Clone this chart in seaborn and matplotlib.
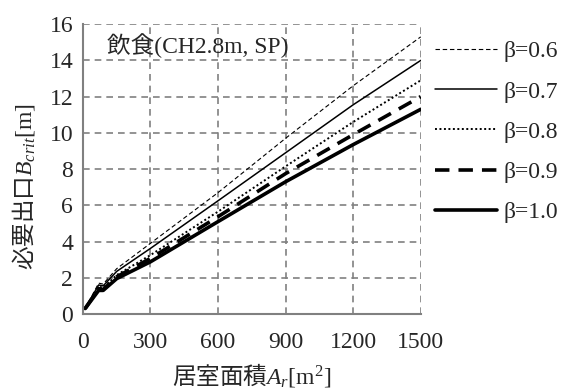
import matplotlib
matplotlib.use("Agg")
import matplotlib.pyplot as plt
import seaborn as sns
import pandas as pd
from matplotlib.ticker import MultipleLocator

# room area [m2]
area = [10, 70, 90, 150, 300, 600, 900, 1200, 1500]

# required exit width B_crit [m] per beta
b_06 = [0.3, 1.7, 1.65, 2.5, 3.9, 6.7, 9.7, 12.6, 15.3]
b_07 = [0.3, 1.6, 1.55, 2.35, 3.62, 6.25, 8.9, 11.55, 14.0]
b_08 = [0.3, 1.5, 1.45, 2.15, 3.25, 5.65, 8.15, 10.6, 12.9]
b_09 = [0.3, 1.4, 1.35, 2.05, 3.07, 5.37, 7.75, 9.9, 12.0]
b_10 = [0.3, 1.3, 1.3, 1.95, 2.88, 5.1, 7.3, 9.35, 11.3]

labels = ["β=0.6", "β=0.7", "β=0.8", "β=0.9", "β=1.0"]
series = [b_06, b_07, b_08, b_09, b_10]
styles = [
    dict(lw=0.8, ls=(0, (4, 2.5))),
    dict(lw=1.1, ls="-"),
    dict(lw=1.4, ls=(0, (1, 1.3))),
    dict(lw=2.6, ls=(0, (4, 2.5))),
    dict(lw=2.6, ls="-"),
]

FS = 17

sns.set_style("white")
plt.rcParams["font.family"] = ["Liberation Serif", "Noto Sans CJK JP"]
plt.rcParams["mathtext.fontset"] = "custom"
plt.rcParams["mathtext.rm"] = "Liberation Serif"
plt.rcParams["mathtext.it"] = "Liberation Serif:italic"

fig = plt.figure(figsize=(5.64, 3.90), dpi=100)
ax = fig.add_axes([0.147, 0.195, 0.599, 0.743])

for lab, vals, st in zip(labels, series, styles):
    df = pd.DataFrame({"area": area, "b": vals})
    sns.lineplot(data=df, x="area", y="b", ax=ax, color="black",
                 linewidth=st["lw"], linestyle=st["ls"], label=lab)

gray = "#808080"
ax.set_xlim(0, 1500)
ax.set_ylim(0, 16)
ax.xaxis.set_major_locator(MultipleLocator(300))
ax.xaxis.set_minor_locator(MultipleLocator(100))
ax.yaxis.set_major_locator(MultipleLocator(2))
ax.grid(True, which="major", color=gray, linestyle=(0, (4, 3)), linewidth=1.2)

for s in ["top", "right"]:
    ax.spines[s].set_visible(False)
for s in ["left", "bottom"]:
    ax.spines[s].set_color(gray)
    ax.spines[s].set_linewidth(1.5)

ax.tick_params(axis="both", which="major", direction="inout", length=8,
               width=1.2, color=gray, labelsize=FS, pad=3)
ax.tick_params(axis="x", which="minor", direction="in", length=4,
               width=1.2, color=gray)
ax.tick_params(axis="y", which="minor", left=False)
ax.tick_params(axis="x", which="major", pad=9)

ax.set_xlabel(r"居室面積$\mathit{A_r}\mathrm{[m^2]}$", fontsize=FS,
              family="Noto Sans CJK JP", labelpad=6)
ax.set_ylabel(r"必要出口$\mathit{B_{crit}}\mathrm{[m]}$", fontsize=FS,
              family="Noto Sans CJK JP")
ax.yaxis.set_label_coords(-0.135, 0.44)

ax.text(0.07, 0.97, "飲食(CH2.8m, SP)", transform=ax.transAxes,
        fontsize=FS, va="top", ha="left",
        family=["Liberation Serif", "Noto Sans CJK JP"])

ax.legend(loc="upper left", bbox_to_anchor=(1.015, 0.975), frameon=False,
          fontsize=FS, handlelength=2.6, labelspacing=0.79,
          handletextpad=0.3, borderaxespad=0)

fig.savefig("out.png", dpi=100)
